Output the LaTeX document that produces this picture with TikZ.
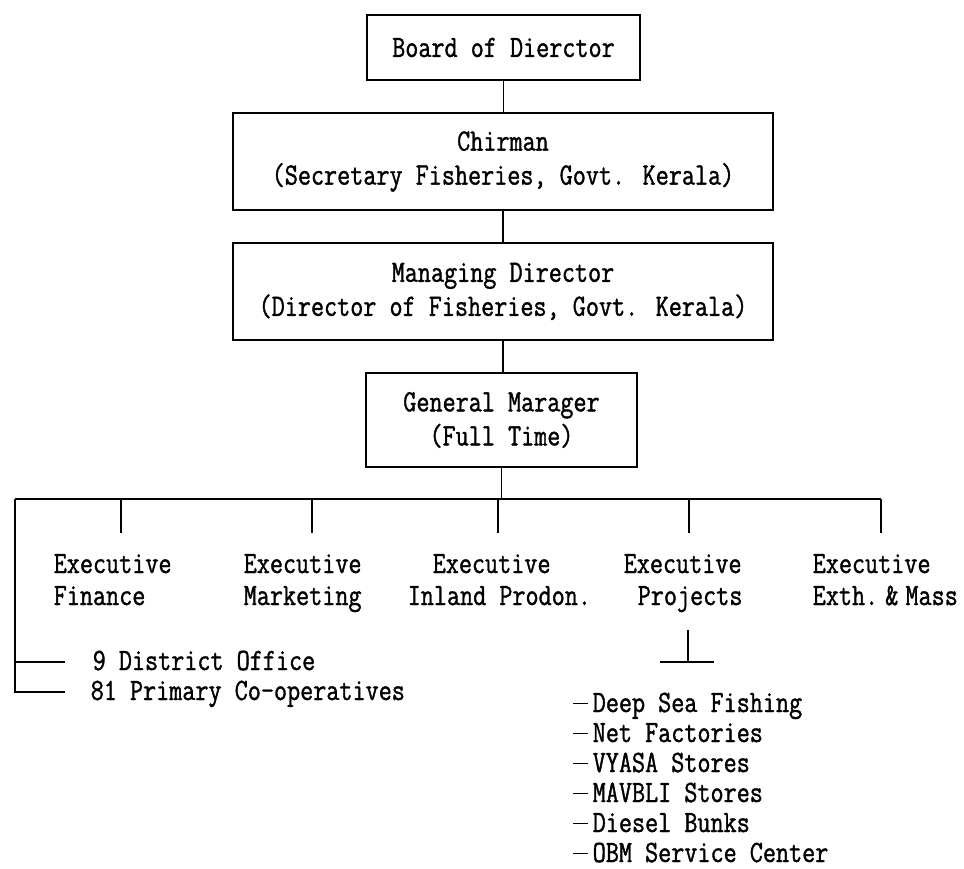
\documentclass[tikz,border=0pt]{standalone}
\usepackage{fontspec}
\setmainfont{Latin Modern Mono}[FakeStretch=0.82, FakeBold=1.2]
\newcommand{\itemdash}{\rule[8pt]{15pt}{1.3pt}\kern5pt}
\begin{document}
\begin{tikzpicture}[x=1pt,y=-1pt, line width=1.5pt,
  box/.style={draw, rectangle, inner sep=0pt, align=center},
  lbl/.style={inner sep=0pt, anchor=base west},
  every node/.style={font=\fontsize{31}{34}\selectfont}]
\useasboundingbox (0,0) rectangle (964,869);
% boxes
\node[box, minimum width=273pt, minimum height=65pt] (board) at (503.5,47.5) {Board of Dierctor};
\node[box, minimum width=540pt, minimum height=97pt] (chair) at (503,161.5) {Chirman\\(Secretary Fisheries, Govt. Kerala)};
\node[box, minimum width=540pt, minimum height=97pt] (md) at (503,291.5) {Managing Director\\(Director of Fisheries, Govt. Kerala)};
\node[box, minimum width=271pt, minimum height=94pt] (gm) at (501.5,420) {General Marager\\(Full Time)};
\draw (board.south) -- (board.south |- chair.north);
\draw (chair.south) -- (chair.south |- md.north);
\draw (md.south) -- (md.south |- gm.north);
% bus
\coordinate (busy) at (0,499);
\coordinate (bL) at (15,499);
\coordinate (bR) at (881,499);
\draw (gm.south) -- (gm.south |- busy);
\draw (bL) -- (bR);
\foreach \x/\n in {121/a,312/b,498/c,689/d,881/e}{
  \coordinate (t\n) at (\x,499);
  \coordinate (s\n) at (\x,533);
  \draw (t\n) -- (s\n);
}
% executives
\node[lbl] (fin1) at (53,573) {Executive};
\node[lbl] (fin2) at (53,605) {Finance};
\node[lbl] (mkt1) at (243,573) {Executive};
\node[lbl] (mkt2) at (243,605) {Marketing};
\node[lbl] (inl1) at (432,573) {Executive};
\node[lbl] (inl2) at (407,605) {Inland Prodon.};
\node[lbl] (prj1) at (623,573) {Executive};
\node[lbl] (prj2) at (637,605) {Projects};
\node[lbl] (ext1) at (812,573) {Executive};
\node[lbl] (ext2) at (812,605) {Exth.\kern-6pt\ \&\kern-6pt\ Mass};
% left branch
\coordinate (la) at (15,662);
\coordinate (lb) at (15,692);
\coordinate (la2) at (65,662);
\coordinate (lb2) at (65,692);
\draw (bL) -- (lb) -- (lb2);
\draw (la) -- (la2);
\node[lbl] (dist) at (92,670) {9 District Office};
\node[lbl] (prim) at (90,700) {81 Primary Co-operatives};
% projects branch
\coordinate (pv) at (688,630);
\coordinate (ph) at (688,662);
\coordinate (phl) at (660,662);
\coordinate (phr) at (714,662);
\draw (pv) -- (ph);
\draw (phl) -- (phr);
\node[lbl] (i1) at (572,712) {\itemdash Deep Sea Fishing};
\node[lbl] (i2) at (572,742) {\itemdash Net Factories};
\node[lbl] (i3) at (572,772) {\itemdash VYASA Stores};
\node[lbl] (i4) at (572,802) {\itemdash MAVBLI Stores};
\node[lbl] (i5) at (572,832) {\itemdash Diesel Bunks};
\node[lbl] (i6) at (572,862) {\itemdash OBM Service Center};
\end{tikzpicture}
\end{document}
